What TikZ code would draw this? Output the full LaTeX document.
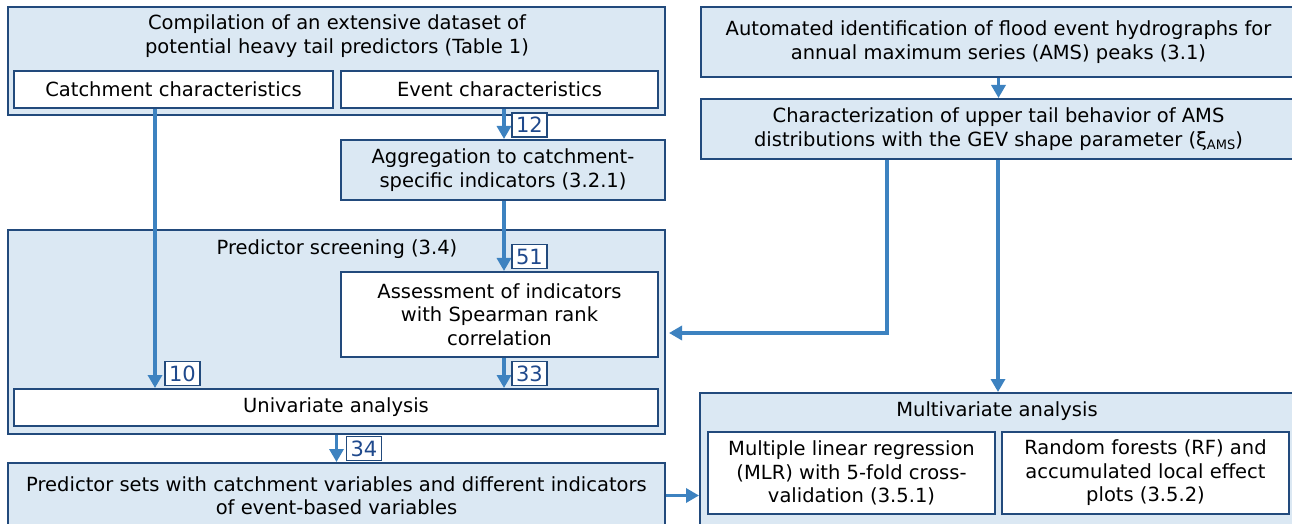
\documentclass[tikz,border=0pt]{standalone}
\usepackage{fontspec}
\setmainfont{DejaVu Sans}
\usetikzlibrary{positioning,arrows.meta}
\definecolor{boxblue}{RGB}{219,232,243}
\definecolor{lineblue}{RGB}{34,74,124}
\definecolor{arrowblue}{RGB}{61,130,192}
\definecolor{numblue}{RGB}{31,73,140}

\tikzset{
  groupbox/.style={draw=lineblue, line width=1pt, fill=boxblue, inner sep=0pt},
  stepbox/.style={draw=lineblue, line width=1pt, fill=boxblue, align=center},
  subbox/.style={draw=lineblue, line width=1pt, fill=white, align=center},
  countbox/.style={draw=lineblue, line width=0.8pt, fill=white, text=numblue, inner sep=0.5pt, minimum width=17.5pt, minimum height=12pt, font=\fontsize{10.5}{11}\selectfont},
  flow/.style={draw=arrowblue, line width=1.7pt, -{Triangle[length=6.5pt,width=7pt]}},
}

\begin{document}
\begin{tikzpicture}[x=0.5pt, y=-0.5pt, every node/.style={font=\fontsize{9.75}{11.75}\selectfont}]
\useasboundingbox (0,0) rectangle (1292,524);
\fill[white] (0,0) rectangle (1292,524);

% left column
\node[groupbox, minimum width=328.5pt, minimum height=54pt] (comp) at (336.5,61) {};
\node[align=center] (comptitle) at (337,36) {Compilation of an extensive dataset of\\potential heavy tail predictors (Table 1)};
\node[subbox, minimum width=159.5pt, minimum height=18.5pt] (catch) at (173.5,89.5) {Catchment characteristics};
\node[subbox, minimum width=158.5pt, minimum height=18.5pt] (event) at (499.5,89.5) {Event characteristics};
\node[stepbox, minimum width=162pt, minimum height=30pt] (aggr) at (503,170) {Aggregation to catchment-\\specific indicators (3.2.1)};
\node[groupbox, minimum width=328.5pt, minimum height=102pt] (screen) at (336.5,332) {};
\node (screentitle) at (337,249) {Predictor screening (3.4)};
\node[subbox, minimum width=158.5pt, minimum height=42.5pt] (assess) at (499.5,314.5) {Assessment of indicators\\with Spearman rank\\correlation};
\node[subbox, minimum width=322pt, minimum height=18.5pt] (univ) at (336,407.5) {Univariate analysis};
\node[stepbox, minimum width=328.5pt, minimum height=32.5pt] (predsets) at (336.5,495.5) {Predictor sets with catchment variables and different indicators\\of event-based variables};

% right column
\node[stepbox, minimum width=297.5pt, minimum height=35pt] (auto) at (998.5,42) {Automated identification of flood event hydrographs for\\annual maximum series (AMS) peaks (3.1)};
\node[stepbox, minimum width=297.5pt, minimum height=30pt] (charac) at (998.5,129) {Characterization of upper tail behavior of AMS\\distributions with the GEV shape parameter (ξ\raisebox{-0.35ex}{\fontsize{6.5}{7}\selectfont AMS})};
\node[groupbox, minimum width=298pt, minimum height=68.5pt] (multi) at (998,461.5) {};
\node (multititle) at (997,411) {Multivariate analysis};
\node[subbox, minimum width=143.5pt, minimum height=41pt] (mlr) at (851.5,473) {Multiple linear regression\\(MLR) with 5-fold cross-\\validation (3.5.1)};
\node[subbox, minimum width=143.5pt, minimum height=41pt] (rf) at (1145.5,473) {Random forests (RF) and\\accumulated local effect\\plots (3.5.2)};

% connectors
\coordinate (xcatch) at (155,0);
\coordinate (xevent) at (504,0);
\coordinate (bend) at (887,333);
\draw[flow] (xcatch |- catch.south) -- (xcatch |- univ.north);
\draw[flow] (xevent |- event.south) -- (xevent |- aggr.north);
\draw[flow] (xevent |- aggr.south) -- (xevent |- assess.north);
\draw[flow] (xevent |- assess.south) -- (xevent |- univ.north);
\draw[flow] (screen.south) -- (predsets.north);
\draw[flow] (auto.south) -- (charac.north);
\draw[flow] (bend |- charac.south) -- (bend) -- ([xshift=1.5pt]screen.east |- bend);
\draw[flow] (charac.south -| multi.north) -- (multi.north);
\draw[flow] (predsets.east) -- (multi.west |- predsets.east);

% counts
\node[countbox] (n12) at (529.5,125) {12};
\node[countbox] (n51) at (529.5,256.5) {51};
\node[countbox] (n10) at (182.5,373.5) {10};
\node[countbox] (n33) at (529.5,373.5) {33};
\node[countbox] (n34) at (364,448.5) {34};
\end{tikzpicture}
\end{document}
